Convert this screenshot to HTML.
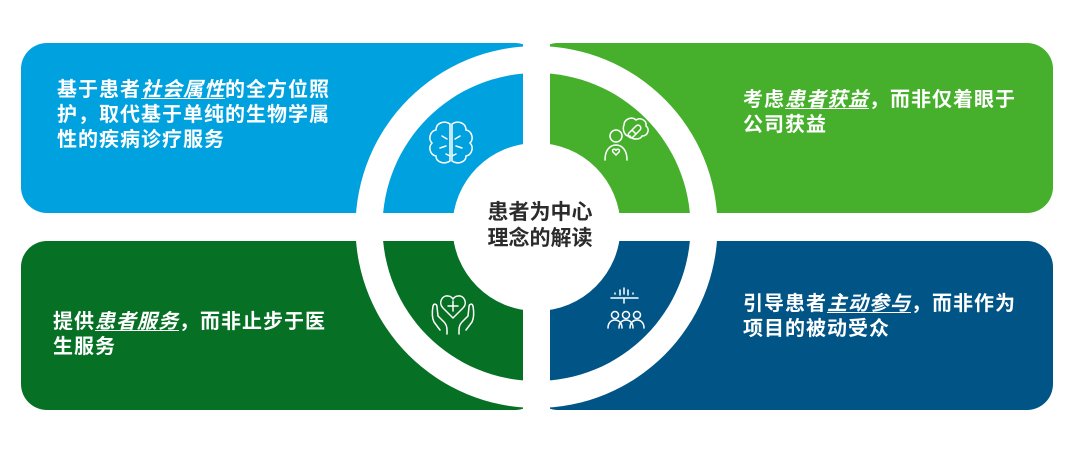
<!DOCTYPE html>
<html style="overflow:hidden"><head><meta charset="utf-8"><style>
html,body{margin:0;width:1080px;height:454px;overflow:hidden}
body{background:#fff;position:relative;font-family:"Liberation Sans","Noto Sans CJK SC",sans-serif}
.r{position:absolute;display:block}
.t{position:absolute;color:#fff;font-weight:bold;font-size:20px;letter-spacing:1px;line-height:25px;white-space:nowrap}
.t i{text-decoration:underline;text-decoration-thickness:1px;text-underline-offset:2px}
.c{position:absolute;left:440px;top:200px;width:200px;text-align:center;color:#2b2b2b;font-weight:bold;font-size:21px;line-height:26px}
</style></head><body>
<svg class="r" style="left:0;top:0" width="1080" height="454">
<defs>
<clipPath id="cl"><circle cx="536.5" cy="227" r="154"/></clipPath>
</defs>
<rect x="21" y="43" width="520" height="170" rx="26" fill="#00a1df"/>
<rect x="532" y="43" width="521" height="170" rx="26" fill="#46b02c"/>
<rect x="21" y="241" width="520" height="169" rx="26" fill="#067024"/>
<rect x="532" y="241" width="521" height="169" rx="26" fill="#005586"/>
<circle cx="536.5" cy="227" r="181" fill="#fff"/>
<g clip-path="url(#cl)">
<rect x="380" y="70" width="156.5" height="157" fill="#00a1df"/>
<rect x="536.5" y="70" width="160" height="157" fill="#46b02c"/>
<rect x="380" y="227" width="156.5" height="160" fill="#067024"/>
<rect x="536.5" y="227" width="160" height="160" fill="#005586"/>
</g>
<rect x="523" y="0" width="27" height="454" fill="#fff"/>
<rect x="0" y="213" width="1080" height="28" fill="#fff"/>
<circle cx="536.5" cy="227" r="84" fill="#fff"/>
<g fill="none" stroke="#fff" stroke-width="1.5" stroke-linecap="round">
<path d="M450 124 c-6-4-14-1-14 6 c-6 1-8 9-4 13 c-4 4-2 12 4 13 c0 6 8 9 14 5 z"/>
<path d="M452 124 c6-4 14-1 14 6 c6 1 8 9 4 13 c4 4 2 12-4 13 c0 6-8 9-14 5 z"/>
<path d="M442 136 l5 3 M440 148 l6-2 M460 136 l-5 3 M462 148 l-6-2 M446 154 l4 2 M456 154 l-4 2"/>
<circle cx="616" cy="136" r="6"/>
<path d="M605 160 c0-10 5-15 11-15 c6 0 11 5 11 15"/>
<path d="M613 152 c-2-3 3-4 3-1 c0-3 5-2 3 1 l-3 3 z"/>
<path d="M624 125 c0-6 8-9 12-5 c4-3 11 0 10 6 c4 3 2 10-4 10 c-2 4-10 4-12 0 c-5 1-8-6-6-11 z"/>
<path d="M629 133 l7-7 a2.5 2.5 0 0 1 4 4 l-7 7 a2.5 2.5 0 0 1-4-4 z M632 130 l4 4"/>
<path d="M453 318 l-10-10 c-5-5-1-13 5-12 c3 0 5 3 5 3 c0 0 2-3 5-3 c6-1 10 7 5 12 z"/>
<path d="M453 301 v10 M448 306 h10"/>
<path d="M440 330 l-6-8 c-2-4-2-10-1-16 c1-3 4-2 4 1 l1 9 l6 6 c2 2 3 5 3 8 v4"/>
<path d="M466 330 l6-8 c2-4 2-10 1-16 c-1-3-4-2-4 1 l-1 9 l-6 6 c-2 2-3 5-3 8 v4"/>
<path d="M611 298 h27 M624 298 v5 M615 293 v1 M620 290 v5 M624 288 v6 M628 290 v5 M633 293 v1"/>
<circle cx="615" cy="315" r="3.5"/><circle cx="626" cy="315" r="3.5"/><circle cx="637" cy="315" r="3.5"/>
<path d="M608 328 c0-5 3-8 7-8 c4 0 7 3 7 8 M619 328 c0-5 3-8 7-8 c4 0 7 3 7 8 M630 328 c0-5 3-8 7-8 c4 0 7 3 7 8"/>
</g>
</svg>
<div class="t" style="left:57px;top:78px">基于患者<i>社会属性</i>的全方位照<br>护，取代基于单纯的生物学属<br>性的疾病诊疗服务</div>
<div class="t" style="left:743px;top:88px">考虑<i>患者获益</i>，而非仅着眼于<br>公司获益</div>
<div class="t" style="left:53px;top:310px">提供<i>患者服务</i>，而非止步于医<br>生服务</div>
<div class="t" style="left:743px;top:292px">引导患者<i>主动参与</i>，而非作为<br>项目的被动受众</div>
<div class="c">患者为中心<br>理念的解读</div>
</body></html>
